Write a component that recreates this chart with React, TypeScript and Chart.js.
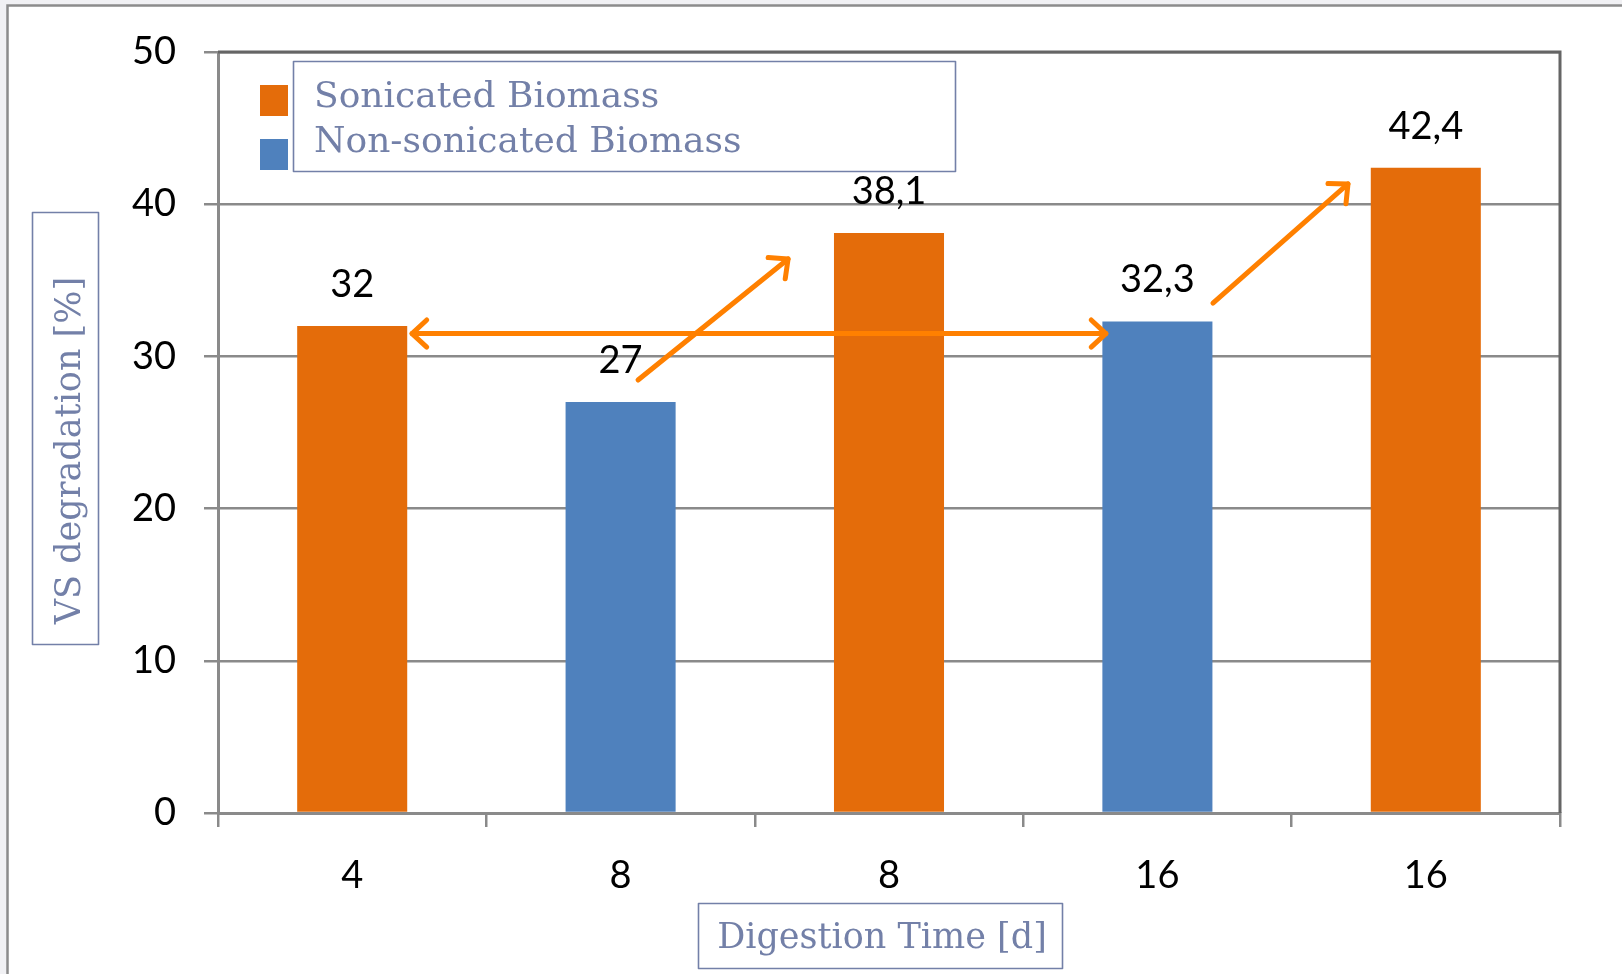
import React, { useEffect, useRef } from "react";
import { Chart, registerables } from "chart.js";

Chart.register(...registerables);

// ---------- data ----------
const categories = ["4", "8", "8", "16", "16"];
const seriesNames = ["Sonicated Biomass", "Non-sonicated Biomass"];
const sonicated = [32, null, 38.1, null, 42.4];
const nonSonicated = [null, 27, null, 32.3, null];
const yMin = 0;
const yMax = 50;
const yStep = 10;
const xTitle = "Digestion Time [d]";
const yTitle = "VS degradation [%]";
// annotation arrows in data space: [category index (fractional), value]
const arrowFrom = [
  [0.223, 31.5],
  [1.065, 28.45],
  [3.207, 33.5],
];
const arrowTo = [
  [2.808, 31.5],
  [1.624, 36.4],
  [3.71, 41.33],
];
const arrowBothEnds = [true, false, false];

// ---------- styles ----------
const ORANGE = "#E46C0A";
const BLUE = "#4F81BD";
const ARROW = "#FF8000";
const TITLE_COLOR = "#7380A8";
const GRID = "#8A8A8A";
const TICK_FONT = { family: "Lato", size: 38 };
const SERIF = '"DejaVu Serif"';

function fmt(v: number) {
  return String(v).replace(".", ",");
}

function drawArrowHead(ctx: CanvasRenderingContext2D, tx: number, ty: number, fx: number, fy: number) {
  const ang = Math.atan2(ty - fy, tx - fx);
  const len = 20;
  const spread = Math.PI / 4.2;
  ctx.beginPath();
  ctx.moveTo(tx - len * Math.cos(ang - spread), ty - len * Math.sin(ang - spread));
  ctx.lineTo(tx, ty);
  ctx.lineTo(tx - len * Math.cos(ang + spread), ty - len * Math.sin(ang + spread));
  ctx.stroke();
}

const decorPlugin = {
  id: "decor",
  beforeDraw(chart: any) {
    const { ctx, width, height } = chart;
    ctx.save();
    ctx.fillStyle = "#F1F1F4";
    ctx.fillRect(0, 0, width, height);
    ctx.fillStyle = "#FFFFFF";
    ctx.fillRect(8, 6, width - 8, height - 6);
    ctx.strokeStyle = "#8C8C8C";
    ctx.lineWidth = 2.5;
    ctx.beginPath();
    ctx.moveTo(7.5, height);
    ctx.lineTo(7.5, 5.5);
    ctx.lineTo(width, 5.5);
    ctx.stroke();
    ctx.restore();
  },
  afterDatasetsDraw(chart: any) {
    const { ctx } = chart;
    const { left, right, top, bottom } = chart.chartArea;
    const xs = chart.scales.x;
    const ys = chart.scales.y;
    ctx.save();
    // top / right frame of plot area
    ctx.strokeStyle = "#656565";
    ctx.lineWidth = 3;
    ctx.beginPath();
    ctx.moveTo(left, top);
    ctx.lineTo(right, top);
    ctx.lineTo(right, bottom);
    ctx.stroke();

    // data labels
    ctx.fillStyle = "#000";
    ctx.font = `${TICK_FONT.size}px ${TICK_FONT.family}`;
    ctx.textAlign = "center";
    ctx.textBaseline = "alphabetic";
    chart.data.datasets.forEach((ds: any, di: number) => {
      const meta = chart.getDatasetMeta(di);
      ds.data.forEach((v: number | null, i: number) => {
        if (v === null || v === undefined) return;
        const el = meta.data[i];
        ctx.fillText(fmt(v), el.x, el.y - 29);
      });
    });

    // arrows
    ctx.strokeStyle = ARROW;
    ctx.lineWidth = 5;
    ctx.lineCap = "round";
    ctx.lineJoin = "round";
    arrowFrom.forEach((f, i) => {
      const t = arrowTo[i];
      const fx = xs.getPixelForValue(f[0]);
      const fy = ys.getPixelForValue(f[1]);
      const tx = xs.getPixelForValue(t[0]);
      const ty = ys.getPixelForValue(t[1]);
      ctx.beginPath();
      ctx.moveTo(fx, fy);
      ctx.lineTo(tx, ty);
      ctx.stroke();
      drawArrowHead(ctx, tx, ty, fx, fy);
      if (arrowBothEnds[i]) drawArrowHead(ctx, fx, fy, tx, ty);
    });

    // legend
    const colors = [ORANGE, BLUE];
    const lx = left + 42;
    colors.forEach((c, i) => {
      ctx.fillStyle = c;
      ctx.fillRect(lx, top + 33 + i * 54, 28, 31);
    });
    ctx.strokeStyle = TITLE_COLOR;
    ctx.lineWidth = 1.6;
    ctx.strokeRect(left + 75.5, top + 9.5, 662, 110);
    ctx.fillStyle = TITLE_COLOR;
    ctx.font = `36px ${SERIF}`;
    ctx.textAlign = "left";
    seriesNames.forEach((n, i) => {
      ctx.fillText(n, left + 96, top + 55 + i * 45);
    });

    // y axis title with box
    ctx.font = `35px ${SERIF}`;
    ctx.save();
    ctx.translate(80, (top + bottom) / 2 + 18);
    ctx.rotate(-Math.PI / 2);
    ctx.textAlign = "center";
    ctx.fillText(yTitle, 0, 0);
    ctx.restore();
    ctx.strokeRect(32.5, 212.5, 66, 432);

    // x axis title with box
    ctx.textAlign = "center";
    ctx.fillText(xTitle, (left + right) / 2 - 7, 948);
    ctx.strokeRect(698.5, 903.5, 364, 65);

    ctx.restore();
  },
};

export default function App() {
  const ref = useRef<HTMLCanvasElement | null>(null);
  useEffect(() => {
    if (!ref.current) return;
    const chart = new Chart(ref.current, {
      type: "bar",
      data: {
        labels: categories,
        datasets: [
          {
            label: seriesNames[0],
            data: sonicated,
            backgroundColor: ORANGE,
            skipNull: true,
            barPercentage: 0.41,
            categoryPercentage: 1,
          } as any,
          {
            label: seriesNames[1],
            data: nonSonicated,
            backgroundColor: BLUE,
            skipNull: true,
            barPercentage: 0.41,
            categoryPercentage: 1,
          } as any,
        ],
      },
      options: {
        responsive: false,
        animation: false,
        devicePixelRatio: 1,
        layout: { padding: { left: 0, top: 52, right: 62, bottom: 0 } },
        plugins: { legend: { display: false }, tooltip: { enabled: false } },
        scales: {
          x: {
            offset: true,
            grid: {
              offset: true,
              drawOnChartArea: false,
              drawTicks: true,
              tickLength: 14,
              color: GRID,
              lineWidth: 2.5,
            },
            border: { color: GRID, width: 3 },
            ticks: { color: "#000", font: TICK_FONT, padding: 26 },
            afterFit: (s: any) => {
              s.height = 161;
            },
          },
          y: {
            min: yMin,
            max: yMax,
            grid: { color: GRID, lineWidth: 2.5, tickLength: 14, drawTicks: true },
            border: { color: GRID, width: 3 },
            ticks: { stepSize: yStep, color: "#000", font: TICK_FONT, padding: 28 },
            afterFit: (s: any) => {
              s.width = 218;
            },
          },
        },
      },
      plugins: [decorPlugin],
    });
    return () => chart.destroy();
  }, []);
  return (
    <div style={{ position: "fixed", left: 0, top: 0, width: 1622, height: 974 }}>
      <canvas ref={ref} width={1622} height={974} style={{ width: 1622, height: 974, display: "block" }} />
    </div>
  );
}
